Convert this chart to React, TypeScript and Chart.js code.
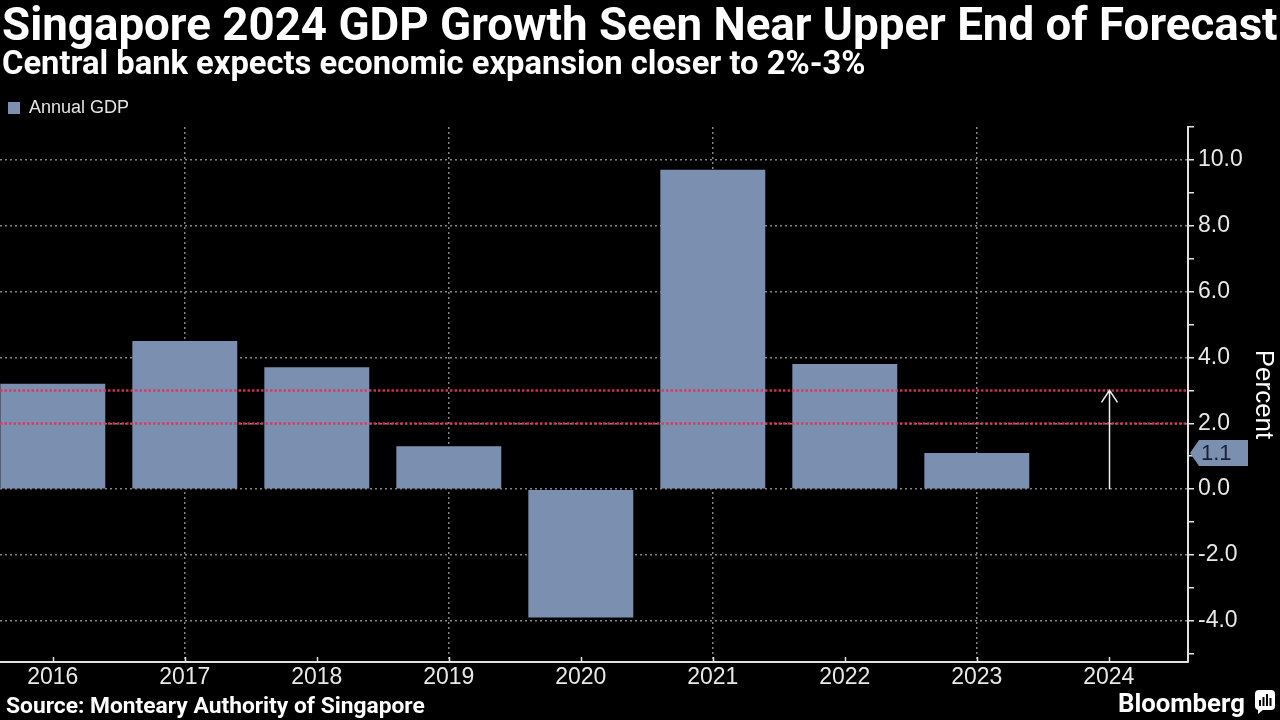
import React, { useEffect, useRef } from "react";
import { Chart, registerables } from "chart.js";

Chart.register(...registerables);

// ---- Text ----
const TITLE = "Singapore 2024 GDP Growth Seen Near Upper End of Forecast";
const SUBTITLE = "Central bank expects economic expansion closer to 2%-3%";
const SOURCE = "Source: Monteary Authority of Singapore";
const BRAND = "Bloomberg";
const SERIES_LABEL = "Annual GDP";
const AXIS_TITLE = "Percent";

// ---- Data ----
const years: number[] = [2016, 2017, 2018, 2019, 2020, 2021, 2022, 2023, 2024];
const annualGdp: (number | null)[] = [3.2, 4.5, 3.7, 1.3, -3.9, 9.7, 3.8, 1.1, null];
const forecastRange: number[] = [2, 3]; // 2024 forecast band (percent)
const yLabelValues: number[] = [-4, -2, 0, 2, 4, 6, 8, 10];

// ---- Styles ----
const BG = "#000000";
const BAR = "#7b90b0";
const GRID = "rgba(165,165,165,0.8)";
const AXIS = "#e2e2e2";
const TXT = "#ffffff";
const TICK_TXT = "#e8e8e8";
const RED = "rgba(224,52,92,0.9)";
const SANS = "'Liberation Sans', Arial, sans-serif";
const BOLD = "Roboto, 'Liberation Sans', sans-serif";

function fitSize(text: string, weight: string, family: string, width: number): number {
  const c = document.createElement("canvas").getContext("2d")!;
  c.font = `${weight} 100px ${family}`;
  return (100 * width) / c.measureText(text).width;
}

export default function App() {
  const ref = useRef<HTMLCanvasElement>(null);

  useEffect(() => {
    document.body.style.margin = "0";
    document.body.style.background = BG;

    const titleSize = fitSize(TITLE, "bold", BOLD, 1276);
    const subSize = fitSize(SUBTITLE, "bold", BOLD, 864);
    const srcSize = fitSize(SOURCE, "bold", BOLD, 419);
    const brandSize = fitSize(BRAND, "bold", BOLD, 127);

    const lastIdx = annualGdp.reduce((acc: number, v, i) => (v !== null ? i : acc), 0);
    const latest = annualGdp[lastIdx] as number;

    const decor = {
      id: "decor",
      beforeDraw(chart: any) {
        const { ctx, width, height } = chart;
        ctx.save();
        ctx.fillStyle = BG;
        ctx.fillRect(0, 0, width, height);
        ctx.restore();
      },
      afterDatasetsDraw(chart: any) {
        const { ctx, chartArea } = chart;
        const xs = chart.scales.x;
        const ys = chart.scales.y;
        ctx.save();
        // forecast band lines
        ctx.strokeStyle = RED;
        ctx.lineWidth = 2.5;
        ctx.setLineDash([2.5, 2]);
        forecastRange.forEach((v) => {
          const y = Math.round(ys.getPixelForValue(v)) + 0.5;
          ctx.beginPath();
          ctx.moveTo(chartArea.left, y);
          ctx.lineTo(chartArea.right, y);
          ctx.stroke();
        });
        ctx.setLineDash([]);
        // arrow for forecast year
        const ax = Math.round(xs.getPixelForValue(years[years.length - 1])) + 0.5;
        const y0 = ys.getPixelForValue(0);
        const y1 = ys.getPixelForValue(forecastRange[1]);
        ctx.strokeStyle = "#f0f0f0";
        ctx.lineWidth = 1.5;
        ctx.beginPath();
        ctx.moveTo(ax, y0);
        ctx.lineTo(ax, y1);
        ctx.moveTo(ax - 8, y1 + 12);
        ctx.lineTo(ax, y1);
        ctx.lineTo(ax + 8, y1 + 12);
        ctx.stroke();
        // small x tick marks above axis
        ctx.strokeStyle = AXIS;
        ctx.lineWidth = 1.5;
        years.forEach((yr) => {
          const px = Math.round(xs.getPixelForValue(yr)) + 0.5;
          ctx.beginPath();
          ctx.moveTo(px, chartArea.bottom);
          ctx.lineTo(px, chartArea.bottom - 5);
          ctx.stroke();
        });
        ctx.restore();
      },
      afterDraw(chart: any) {
        const { ctx, chartArea } = chart;
        const ys = chart.scales.y;
        ctx.save();
        // latest value tag
        const ty = ys.getPixelForValue(latest);
        const tx = chartArea.right + 2;
        ctx.fillStyle = BAR;
        ctx.beginPath();
        ctx.moveTo(tx, ty);
        ctx.lineTo(tx + 9, ty - 13);
        ctx.lineTo(tx + 58, ty - 13);
        ctx.lineTo(tx + 58, ty + 13);
        ctx.lineTo(tx + 9, ty + 13);
        ctx.closePath();
        ctx.fill();
        ctx.fillStyle = "#1b2130";
        ctx.font = `22px ${SANS}`;
        ctx.textAlign = "left";
        ctx.textBaseline = "middle";
        ctx.fillText(latest.toFixed(1), tx + 11, ty + 1);

        // titles
        ctx.fillStyle = TXT;
        ctx.textBaseline = "alphabetic";
        ctx.textAlign = "left";
        ctx.font = `bold ${titleSize}px ${BOLD}`;
        ctx.fillText(TITLE, 2, 40);
        ctx.font = `bold ${subSize}px ${BOLD}`;
        ctx.fillText(SUBTITLE, 2, 74);
        ctx.font = `bold ${srcSize}px ${BOLD}`;
        ctx.fillText(SOURCE, 6, 713);
        ctx.font = `bold ${brandSize}px ${BOLD}`;
        ctx.fillText(BRAND, 1118, 712);
        // brand icon
        const bx = 1255, by = 690, bw = 20, bh = 20;
        ctx.fillStyle = TXT;
        ctx.beginPath();
        ctx.roundRect(bx, by, bw, bh, 4);
        ctx.fill();
        ctx.beginPath();
        ctx.moveTo(bx + 3, by + bh - 1);
        ctx.lineTo(bx + 3, by + bh + 4);
        ctx.lineTo(bx + 9, by + bh - 1);
        ctx.fill();
        ctx.fillStyle = BG;
        [6, 9, 12, 8].forEach((h, i) => {
          ctx.fillRect(bx + 4 + i * 3.5, by + bh - 4 - h, 2, h);
        });
        ctx.restore();
      },
    };

    const chart = new Chart(ref.current!, {
      type: "bar",
      data: {
        datasets: [
          {
            label: SERIES_LABEL,
            data: years
              .map((x, i) => ({ x, y: annualGdp[i] }))
              .filter((d) => d.y !== null) as any,
            backgroundColor: BAR,
            borderWidth: 0,
            barPercentage: 0.795,
            categoryPercentage: 1,
          },
        ],
      },
      options: {
        responsive: false,
        animation: false,
        devicePixelRatio: 1,
        layout: { padding: { top: 91, left: 0, right: 0, bottom: 0 } },
        plugins: {
          title: { display: false },
          tooltip: { enabled: false },
          legend: {
            display: true,
            position: "top",
            align: "start",
            labels: {
              boxWidth: 12,
              boxHeight: 12,
              padding: 8,
              color: "#e4e4e4",
              font: { family: SANS, size: 18 },
            },
          },
        },
        scales: {
          x: {
            type: "linear",
            min: 2015.6,
            max: 2024.6,
            offset: false,
            afterBuildTicks: (s: any) => {
              s.ticks = years.map((v) => ({ value: v }));
            },
            ticks: {
              autoSkip: false,
              maxRotation: 0,
              color: TICK_TXT,
              font: { family: SANS, size: 23 },
              padding: 2,
              callback: (v: any) => String(v),
            },
            grid: {
              offset: false,
              drawTicks: false,
              lineWidth: 1.5,
              color: (ctx: any) =>
                ctx.tick && Math.round(ctx.tick.value) % 2 === 1 ? GRID : "rgba(0,0,0,0)",
            },
            border: { display: true, color: AXIS, width: 2, dash: [2, 3] },
            afterFit: (s: any) => {
              s.height = 58;
            },
          },
          y: {
            type: "linear",
            position: "right",
            min: -5.25,
            max: 11,
            ticks: {
              stepSize: 1,
              autoSkip: false,
              includeBounds: false,
              color: TICK_TXT,
              font: { family: SANS, size: 23 },
              padding: 4,
              callback: (v: any) => (yLabelValues.includes(Number(v)) ? Number(v).toFixed(1) : ""),
            },
            grid: {
              drawTicks: true,
              tickLength: 6,
              tickWidth: 1.5,
              tickColor: AXIS,
              tickBorderDash: [],
              lineWidth: 1.5,
              color: (ctx: any) =>
                ctx.tick && yLabelValues.includes(Math.round(ctx.tick.value)) && Number.isInteger(ctx.tick.value)
                  ? GRID
                  : "rgba(0,0,0,0)",
            },
            border: { display: true, color: AXIS, width: 2, dash: [2, 3] },
            title: {
              display: true,
              text: AXIS_TITLE,
              color: TXT,
              font: { family: SANS, size: 26, lineHeight: 1 },
              padding: { top: 4, bottom: 0 },
            },
            afterFit: (s: any) => {
              s.width = 92;
            },
          },
        },
      },
      plugins: [decor],
    } as any);

    return () => chart.destroy();
  }, []);

  return (
    <div style={{ width: 1280, height: 720, background: BG }}>
      <canvas ref={ref} width={1280} height={720} style={{ display: "block" }} />
    </div>
  );
}
